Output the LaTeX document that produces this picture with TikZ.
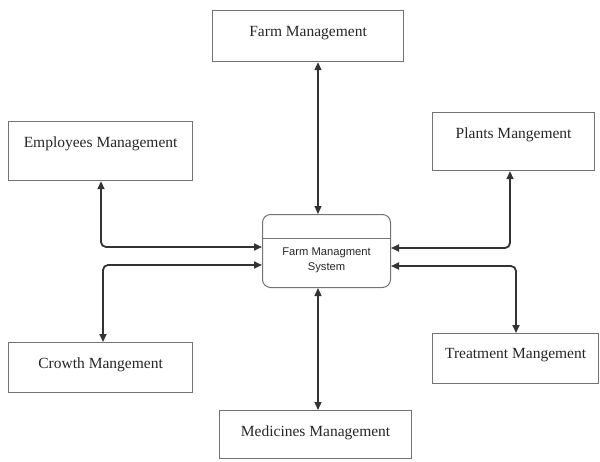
\documentclass[tikz,border=0pt]{standalone}
\usepackage{fontspec}
\setmainfont{Liberation Serif}
\newfontfamily\boxsans{Liberation Sans}
\usetikzlibrary{arrows.meta}
\tikzset{
  mbox/.style={draw=black!55, line width=1.2pt, anchor=north west,
    inner xsep=0pt, inner ysep=0pt, text=black!85,
    font=\fontsize{15.5}{18}\selectfont},
  sysbox/.style={draw=black!55, line width=1pt, rounded corners=8pt,
    anchor=north west, minimum width=128pt, minimum height=73pt, inner sep=0pt},
  conn/.style={draw=black!80, line width=1.8pt, rounded corners=5pt,
    {Triangle[length=8pt,width=7pt]}-{Triangle[length=8pt,width=7pt]}},
  connthin/.style={conn, line width=1.2pt}
}
\begin{document}
\begin{tikzpicture}[x=1pt,y=-1pt]
  \useasboundingbox (0,0) rectangle (600,461);

  % outer modules
  \node[mbox, minimum width=191pt, text height=26pt, text depth=25pt] (farm) at (212,10) {Farm Management};
  \node[mbox, minimum width=184pt, text height=26pt, text depth=33pt] (emp) at (8,121) {Employees Management};
  \node[mbox, minimum width=162pt, text height=26pt, text depth=32pt] (plants) at (432,112) {Plants Mangement};
  \node[mbox, minimum width=184pt, text height=26pt, text depth=24pt] (growth) at (8,342) {Crowth Mangement};
  \node[mbox, minimum width=166pt, text height=25pt, text depth=25pt] (treat) at (432,333) {Treatment Mangement};
  \node[mbox, minimum width=192pt, text height=26pt, text depth=22pt] (med) at (219,410) {Medicines Management};

  % central system
  \node[sysbox] (sys) at (262,214) {};
  \draw[black!55, line width=0.8pt] ([yshift=-24pt]sys.north west) -- ([yshift=-24pt]sys.north east);
  \node[font=\boxsans\fontsize{11.2}{15}\selectfont, align=center, text=black!85] (systxt)
    at ([yshift=-46pt]sys.north) {Farm Managment\\System};

  % connectors
  \draw[connthin] ([xshift=56pt]sys.north west) -- ([xshift=56pt]sys.north west |- farm.south);
  \draw[connthin] ([xshift=56pt]sys.south west) -- ([xshift=56pt]sys.south west |- med.north);
  \draw[conn] ([yshift=-33pt]sys.north west) -| ([xshift=93pt]emp.south west);
  \draw[conn] ([yshift=-51pt]sys.north west) -| ([xshift=95pt]growth.north west);
  \draw[conn] ([yshift=-34pt]sys.north east) -| ([xshift=78pt]plants.south west);
  \draw[conn] ([yshift=-52pt]sys.north east) -| ([xshift=84pt]treat.north west);
\end{tikzpicture}
\end{document}
